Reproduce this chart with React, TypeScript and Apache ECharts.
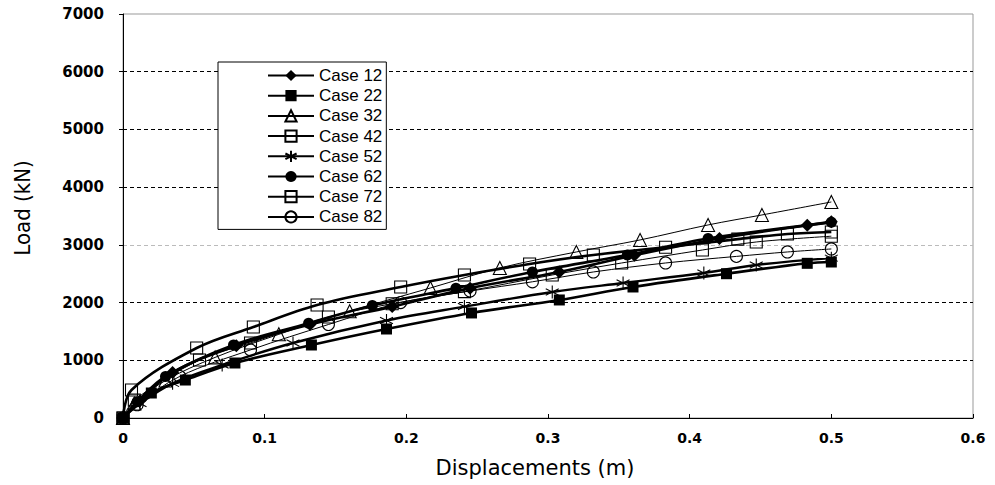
import { useEffect, useRef } from 'react';
import * as echarts from 'echarts';

// ---- data (displacement m, load kN) ----
const caseNames = ['Case 12', 'Case 22', 'Case 32', 'Case 42', 'Case 52', 'Case 62', 'Case 72', 'Case 82'];

const case12 = [[0, 0], [0.012, 300], [0.035, 790], [0.08, 1250], [0.132, 1620], [0.19, 1930], [0.245, 2250], [0.308, 2530], [0.361, 2820], [0.421, 3110], [0.483, 3340], [0.5, 3400]];
const case22 = [[0, 0], [0.02, 433], [0.044, 658], [0.079, 953], [0.133, 1265], [0.186, 1542], [0.246, 1820], [0.308, 2045], [0.36, 2270], [0.426, 2500], [0.483, 2680], [0.5, 2703]];
const case32 = [[0, 0], [0.008, 250], [0.03, 650], [0.065, 1050], [0.11, 1450], [0.16, 1850], [0.217, 2253], [0.266, 2600], [0.32, 2877], [0.365, 3085], [0.413, 3345], [0.451, 3518], [0.5, 3743]];
const case42 = [[0, 0], [0.008, 310], [0.054, 1005], [0.09, 1300], [0.145, 1750], [0.19, 1980], [0.241, 2189], [0.303, 2478], [0.352, 2686], [0.409, 2911], [0.447, 3050], [0.5, 3150]];
const case52 = [[0, 0], [0.012, 250], [0.035, 600], [0.07, 920], [0.12, 1300], [0.186, 1690], [0.241, 1930], [0.303, 2183], [0.353, 2340], [0.41, 2513], [0.447, 2652], [0.5, 2770]];
const case62 = [[0, 0], [0.01, 280], [0.03, 720], [0.078, 1265], [0.131, 1640], [0.176, 1950], [0.235, 2250], [0.289, 2530], [0.356, 2825], [0.413, 3110], [0.5, 3390]];
const case72 = [[0, 0], [0.006, 485], [0.052, 1213], [0.092, 1577], [0.137, 1958], [0.196, 2270], [0.241, 2478], [0.287, 2669], [0.332, 2825], [0.383, 2958], [0.434, 3100], [0.469, 3189], [0.5, 3224]];
const case82 = [[0, 0], [0.01, 230], [0.04, 720], [0.09, 1180], [0.145, 1620], [0.196, 2000], [0.245, 2200], [0.289, 2360], [0.332, 2530], [0.383, 2686], [0.433, 2800], [0.469, 2877], [0.5, 2929]];

const xAxisTitle = 'Displacements (m)';
const yAxisTitle = 'Load (kN)';

const STAR = 'path://M10,0L10,20M1.3,5L18.7,15M1.3,15L18.7,5';

type Style = { symbol: string; size: number; filled: boolean; width: number };
const styles: Style[] = [
  { symbol: 'diamond', size: 13, filled: true, width: 2.6 },
  { symbol: 'rect', size: 11, filled: true, width: 2.6 },
  { symbol: 'triangle', size: 13, filled: false, width: 1 },
  { symbol: 'rect', size: 12, filled: false, width: 1 },
  { symbol: STAR, size: 13, filled: false, width: 2.4 },
  { symbol: 'circle', size: 11, filled: true, width: 2.6 },
  { symbol: 'rect', size: 12, filled: false, width: 2.6 },
  { symbol: 'circle', size: 12, filled: false, width: 1 },
];

const allData = [case12, case22, case32, case42, case52, case62, case72, case82];

export default function App() {
  const ref = useRef<HTMLDivElement>(null);
  useEffect(() => {
    if (!ref.current) return;
    const chart = echarts.init(ref.current, undefined, { renderer: 'svg' });
    const series = allData.map((d, i) => {
      const s = styles[i];
      return {
        name: caseNames[i],
        type: 'line',
        data: d,
        smooth: 0.35,
        symbol: s.symbol,
        symbolSize: s.size,
        showAllSymbol: true,
        lineStyle: { color: '#000', width: s.width },
        itemStyle: s.filled
          ? { color: '#000', borderColor: '#000', borderWidth: 0 }
          : { color: 'rgba(255,255,255,0)', borderColor: '#000', borderWidth: 1.1 },
        emphasis: { disabled: true },
        z: 3,
      };
    });
    chart.setOption({
      animation: false,
      backgroundColor: '#fff',
      grid: { left: 123, right: 22, top: 14, bottom: 67, show: true, borderColor: '#999', borderWidth: 1 },
      xAxis: {
        type: 'value',
        min: 0,
        max: 0.6,
        interval: 0.1,
        axisLine: { show: true, onZero: false, lineStyle: { color: '#000', width: 1 } },
        axisTick: { show: true, inside: true, length: 4, lineStyle: { color: '#000' } },
        axisLabel: {
          margin: 13,
          color: '#000',
          fontFamily: 'DejaVu Sans',
          fontWeight: 'bold',
          fontSize: 14,
          formatter: (v: number) => (v === 0 ? '0' : v.toFixed(1)),
        },
        splitLine: { show: false },
      },
      yAxis: {
        type: 'value',
        min: 0,
        max: 7000,
        interval: 1000,
        axisLine: { show: true, lineStyle: { color: '#000', width: 1 } },
        axisTick: { show: true, inside: false, length: 4, lineStyle: { color: '#000' } },
        axisLabel: {
          margin: 19,
          color: '#000',
          fontFamily: 'DejaVu Sans',
          fontWeight: 'bold',
          fontSize: 15,
          formatter: (v: number) => String(v),
        },
        splitLine: {
          show: true,
          lineStyle: {
            type: [4, 3],
            width: 1,
            color: ['#000', '#000', '#000', '#bbb', '#000', '#000', '#000', 'rgba(0,0,0,0)'],
          },
        },
      },
      legend: {
        data: caseNames,
        orient: 'vertical',
        left: 218,
        top: 62,
        itemWidth: 46,
        itemHeight: 14,
        itemGap: 3.2,
        padding: [5, 4, 4, 49],
        borderColor: '#000',
        borderWidth: 1,
        backgroundColor: '#fff',
        textStyle: { fontSize: 17, fontFamily: 'Liberation Sans, Arial, sans-serif', color: '#000' },
      },
      graphic: [
        {
          type: 'text',
          x: 22,
          y: 208,
          rotation: Math.PI / 2,
          style: {
            text: yAxisTitle,
            fontSize: 22,
            fontFamily: 'Liberation Sans Narrow, DejaVu Sans Condensed, sans-serif',
            fill: '#000',
            align: 'center',
            verticalAlign: 'middle',
          },
        },
        {
          type: 'text',
          x: 535,
          y: 468,
          style: {
            text: xAxisTitle,
            fontSize: 21,
            fontFamily: 'DejaVu Sans',
            fill: '#000',
            align: 'center',
            verticalAlign: 'middle',
          },
        },
      ],
      series,
    });
    return () => chart.dispose();
  }, []);
  return <div ref={ref} style={{ position: 'fixed', left: 0, top: 0, width: 995, height: 485 }} />;
}
